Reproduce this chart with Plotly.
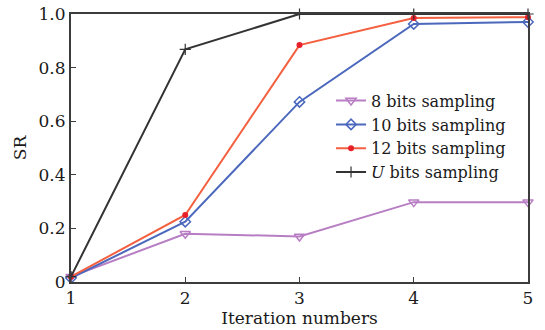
import plotly.graph_objects as go

iterations = [1, 2, 3, 4, 5]
sr_8 = [0.02, 0.18, 0.17, 0.298, 0.298]
sr_10 = [0.015, 0.225, 0.672, 0.963, 0.970]
sr_12 = [0.02, 0.25, 0.884, 0.985, 0.988]
sr_u = [0.02, 0.868, 1.0, 1.0, 1.0]
y_ticks = [0, 0.2, 0.4, 0.6, 0.8, 1.0]
y_tick_labels = ["0", "0.2", "0.4", "0.6", "0.8", "1.0"]

font_family = "DejaVu Serif"
axis_color = "#3c3c3c"

fig = go.Figure()
fig.add_trace(go.Scatter(
    x=iterations, y=sr_8, mode="lines+markers", name="8 bits sampling",
    line=dict(color="#b87ec4", width=2),
    marker=dict(symbol="triangle-down-open", size=9, color="#b87ec4", line=dict(width=1.5)),
    cliponaxis=False))
fig.add_trace(go.Scatter(
    x=iterations, y=sr_10, mode="lines+markers", name="10 bits sampling",
    line=dict(color="#4b68bd", width=2),
    marker=dict(symbol="diamond-open", size=8, color="#4b68bd", line=dict(width=1.5)),
    cliponaxis=False))
fig.add_trace(go.Scatter(
    x=iterations, y=sr_12, mode="lines+markers", name="12 bits sampling",
    line=dict(color="#f4603f", width=2),
    marker=dict(symbol="circle", size=6, color="#e8202a"),
    cliponaxis=False))
fig.add_trace(go.Scatter(
    x=iterations, y=sr_u, mode="lines+markers", name="<i>U</i> bits sampling",
    line=dict(color="#333333", width=2),
    marker=dict(symbol="cross-thin-open", size=8, color="#333333", line=dict(width=1.2, color="#333333")),
    cliponaxis=False))

fig.update_layout(
    width=545, height=330,
    margin=dict(l=71, r=17, t=14, b=48),
    paper_bgcolor="white", plot_bgcolor="white",
    font=dict(family=font_family, size=17, color="#1a1a1a"),
    showlegend=True,
    legend=dict(x=0.569, y=0.74, xanchor="left", yanchor="top",
                bgcolor="rgba(255,255,255,0)", borderwidth=0,
                font=dict(family=font_family, size=16),
                tracegroupgap=0, itemwidth=30),
    xaxis=dict(range=[1, 5], tickvals=iterations, ticktext=[str(i) for i in iterations],
               showgrid=False, zeroline=False, showline=True, linecolor=axis_color,
               linewidth=2, mirror=True, ticks="inside", ticklen=5, tickcolor=axis_color,
               tickfont=dict(size=17), automargin=False,
               title=dict(text="Iteration numbers", standoff=2, font=dict(size=17))),
    yaxis=dict(range=[0, 1], tickvals=y_ticks, ticktext=y_tick_labels,
               showgrid=False, zeroline=False, showline=True, linecolor=axis_color,
               linewidth=2, mirror=True, ticks="inside", ticklen=5, tickcolor=axis_color,
               tickfont=dict(size=17), automargin=False,
               title=dict(text="SR", standoff=8, font=dict(size=17))),
)

fig.write_html("out.html", config={"displayModeBar": False},
               post_script="document.body.style.margin='0px';document.body.style.overflow='hidden';")
